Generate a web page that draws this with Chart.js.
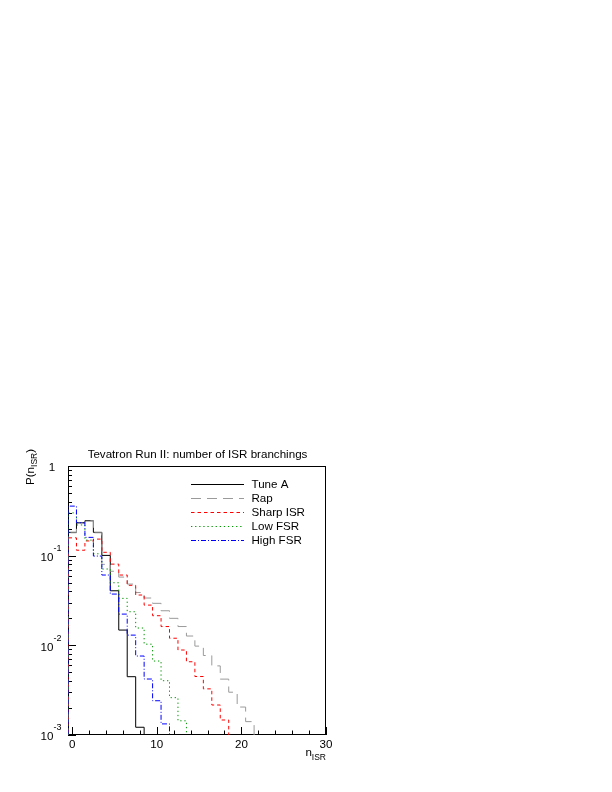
<!DOCTYPE html>
<html><head><meta charset="utf-8">
<script src="https://cdn.jsdelivr.net/npm/chart.js@4/dist/chart.umd.min.js"></script>
<style>html,body{margin:0;padding:0;background:#fff;}#wrap{position:absolute;left:0;top:0;width:612px;height:792px;}</style>
</head><body><div id="wrap"><canvas id="c" width="612" height="792"></canvas></div>
<script>
// ---- data ----
const nISR = [0,1,2,3,4,5,6,7,8,9,10,11,12,13,14,15,16,17,18,19,20,21];
const tuneA    = [0.182,0.233,0.245,0.182,0.1007,0.0406,0.0148,0.00447,0.00122];
const rap      = [0.18,0.23,0.245,0.18,0.080,0.067,0.0577,0.0482,0.0388,0.0337,0.0294,0.0243,0.0200,0.0162,0.0127,0.0098,0.0077,0.0059,0.0042,0.0030,0.00205,0.00141];
const sharpISR = [0.158,0.115,0.146,0.153,0.109,0.0805,0.0608,0.0467,0.0364,0.0281,0.0214,0.0162,0.0120,0.00887,0.00656,0.00449,0.00327,0.00216,0.00147];
const lowFSR   = [0.30,0.22,0.149,0.105,0.071,0.0499,0.0334,0.0237,0.0156,0.0103,0.00668,0.00403,0.00261,0.00144];
const highFSR  = [0.357,0.233,0.16,0.099,0.0608,0.0373,0.0223,0.0130,0.0076,0.00421,0.00241,0.00133];
const seriesNames = ['Tune A','Rap','Sharp ISR','Low FSR','High FSR'];
const xTickLabels = [0,10,20,30];
const yDecades = [-3,-2,-1,0];
const titleText = 'Tevatron Run II: number of ISR branchings';
const FLOOR = 1e-5;

function histPoints(vals){
  const pts = [{x: nISR[0]-0.5, y: FLOOR}];
  vals.forEach((v,i)=>pts.push({x: nISR[i]-0.5, y: v}));
  pts.push({x: nISR[vals.length-1]+0.5, y: FLOOR});
  return pts;
}
const styles = [
  {c:'#000000', d:[]},
  {c:'#9a9a9a', d:[10,6]},
  {c:'#ff0000', d:[3.5,3]},
  {c:'#009600', d:[1.3,2.8]},
  {c:'#0000ff', d:[5,2,1,2]}
];
const seriesVals = [tuneA, rap, sharpISR, lowFSR, highFSR];
const FONT = '"Liberation Sans", Arial, Helvetica, sans-serif';

const rootPlugin = {
  id:'rootStyle',
  beforeDatasetsDraw(chart){
    const ctx = chart.ctx, a = chart.chartArea, xs = chart.scales.x, ys = chart.scales.y;
    ctx.save();
    ctx.strokeStyle = '#000'; ctx.lineWidth = 1;
    ctx.strokeRect(a.left+0.5, a.top+0.5, a.right-a.left-1, a.bottom-a.top-1);
    // x ticks
    ctx.beginPath();
    for (let v=0; v<=30; v+=2){
      const px = Math.round(xs.getPixelForValue(v))+0.5;
      const len = (v%10===0)?8:4.5;
      ctx.moveTo(px, a.bottom); ctx.lineTo(px, a.bottom-len);
    }
    // y ticks
    for (const d of yDecades){
      for (let k=1;k<=9;k++){
        const val = k*Math.pow(10,d);
        if (val>1.0001) break;
        const py = Math.round(ys.getPixelForValue(val))+0.5;
        const len = (k===1)?8:4;
        ctx.moveTo(a.left, py); ctx.lineTo(a.left+len, py);
      }
    }
    ctx.stroke();
    // labels
    ctx.fillStyle = '#000';
    ctx.font = '11.6px '+FONT;
    ctx.textAlign='center'; ctx.textBaseline='middle';
    ctx.fillText(titleText, 197.5, 455);
    for (const v of xTickLabels){
      ctx.fillText(String(v), xs.getPixelForValue(v), 745);
    }
    for (const d of yDecades){
      const py = ys.getPixelForValue(Math.pow(10,d));
      if (d===0){
        ctx.textAlign='center'; ctx.font='11.6px '+FONT;
        ctx.fillText('1', 52, py+2);
      } else {
        ctx.textAlign='right'; ctx.font='11.6px '+FONT;
        ctx.fillText('10', 53.5, py+2);
        ctx.textAlign='left'; ctx.font='9px '+FONT;
        ctx.fillText(String(d), 53.5, py-7);
      }
    }
    // x title n_ISR
    ctx.textAlign='right';
    ctx.font='8.5px '+FONT;
    ctx.fillText('ISR', 326, 758);
    const wSub = ctx.measureText('ISR').width;
    ctx.font='11.6px '+FONT;
    ctx.fillText('n', 326-wSub, 753);
    // y title P(n_ISR)
    ctx.save();
    ctx.translate(31, 485);
    ctx.rotate(-Math.PI/2);
    ctx.textAlign='left';
    ctx.font='11.6px '+FONT;
    ctx.fillText('P(n', 0, 0);
    let w = ctx.measureText('P(n').width;
    ctx.font='8.5px '+FONT;
    ctx.fillText('ISR', w, 3.5);
    w += ctx.measureText('ISR').width;
    ctx.font='11.6px '+FONT;
    ctx.fillText(')', w, 0);
    ctx.restore();
    // legend (in series order)
    ctx.textAlign='left';
    ctx.font='11.6px '+FONT;
    seriesNames.forEach((name,i)=>{
      const y = 484 + i*14;
      ctx.save();
      ctx.strokeStyle = styles[i].c; ctx.lineWidth = 1;
      ctx.setLineDash(styles[i].d);
      ctx.beginPath(); ctx.moveTo(191, Math.round(y)+0.5); ctx.lineTo(244, Math.round(y)+0.5); ctx.stroke();
      ctx.restore();
      ctx.fillStyle='#000';
      ctx.fillText(name, 251.5, y+0.5);
    });
    ctx.restore();
  }
};

new Chart(document.getElementById('c'), {
  type:'line',
  data:{
    datasets: seriesVals.map((vals,i)=>({
      label: seriesNames[i],
      data: histPoints(vals),
      borderColor: styles[i].c,
      borderDash: styles[i].d,
      borderWidth: 1,
      pointRadius: 0,
      fill: false,
      stepped: 'before',
      tension: 0,
      order: seriesVals.length - i
    }))
  },
  options:{
    responsive:false, animation:false, devicePixelRatio:1,
    layout:{padding:{left:68, right:286, top:466, bottom:57}},
    scales:{
      x:{type:'linear', min:-0.5, max:30, display:false},
      y:{type:'logarithmic', min:0.001, max:1, display:false}
    },
    plugins:{legend:{display:false}, tooltip:{enabled:false}, title:{display:false}}
  },
  plugins:[rootPlugin]
});
</script></body></html>
